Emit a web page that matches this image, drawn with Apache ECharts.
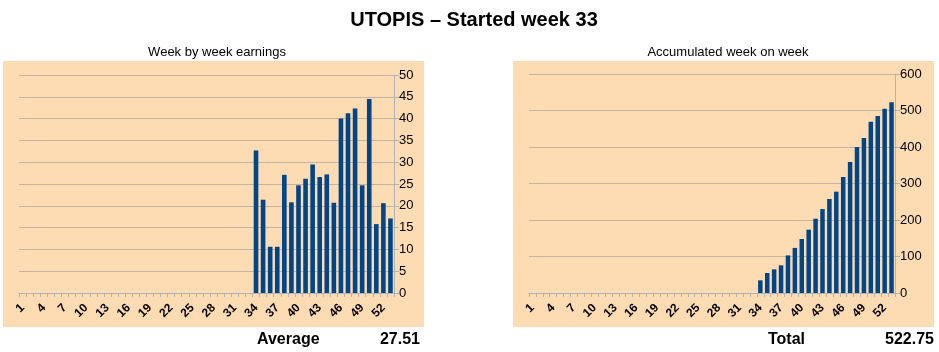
<!DOCTYPE html>
<html>
<head>
<meta charset="utf-8">
<script src="https://cdn.jsdelivr.net/npm/echarts@6/dist/echarts.min.js"></script>
<style>
  html, body { margin: 0; padding: 0; background: #fff; }
  #main { width: 939px; height: 352px; }
</style>
</head>
<body>
<div id="main"></div>
<script>
// weeks 1..53, earnings start at week 34
var weeks = [];
for (var w = 1; w <= 53; w++) weeks.push(String(w));
var firstWeek = 34;
var weeklyEarnings = [32.7, 21.4, 10.6, 10.6, 27.1, 20.8, 24.7, 26.2, 29.5, 26.6,
                      27.2, 20.7, 40.0, 41.2, 42.3, 24.7, 44.5, 15.8, 20.6, 17.1];
var accumulated = [34.7, 54.8, 64.8, 75.8, 103, 123.5, 148, 173.5, 203.5, 230,
                   257.5, 277.6, 317.8, 359, 400, 424.7, 469.4, 485, 505, 522.75];
var averageText = '27.51';
var totalText = '522.75';

function pad(vals) {
    var out = [];
    for (var i = 1; i < firstWeek; i++) out.push(null);
    return out.concat(vals);
}

var chart = echarts.init(document.getElementById('main'));
var font = 'Liberation Sans, Arial, sans-serif';
var gridCol = '#b3b3b3';

function xAxis(gi) {
    return {
        type: 'category', gridIndex: gi, data: weeks,
        boundaryGap: true,
        axisLine: { lineStyle: { color: gridCol } },
        axisTick: { show: true, interval: 0, length: 4, lineStyle: { color: gridCol } },
        axisLabel: { interval: 2, rotate: 45, fontSize: 12, fontWeight: 'bold', color: '#000',
                     fontFamily: font, margin: 13 }
    };
}
function yAxis(gi, max, step) {
    return {
        type: 'value', gridIndex: gi, position: 'right', min: 0, max: max, interval: step,
        axisLine: { show: true, lineStyle: { color: gridCol } },
        axisTick: { show: true, length: 5, lineStyle: { color: gridCol } },
        axisLabel: { fontSize: 13, color: '#000', fontFamily: font, margin: 5 },
        splitLine: { lineStyle: { color: '#c4b4a4' } }
    };
}

var option = {
    animation: false,
    title: [
        { text: 'UTOPIS – Started week 33', left: 469, top: 5, textAlign: 'center',
          textStyle: { fontFamily: font, fontSize: 20, fontWeight: 'bold', color: '#000' } },
        { text: 'Week by week earnings', left: 212, top: 41, textAlign: 'center',
          textStyle: { fontFamily: font, fontSize: 13, fontWeight: 'normal', color: '#000' } },
        { text: 'Accumulated week on week', left: 723, top: 41, textAlign: 'center',
          textStyle: { fontFamily: font, fontSize: 13, fontWeight: 'normal', color: '#000' } }
    ],
    graphic: [
        { type: 'rect', z: -10, shape: { x: 3, y: 61, width: 421, height: 266 }, style: { fill: '#fddbb3' } },
        { type: 'rect', z: -10, shape: { x: 513, y: 61, width: 421, height: 266 }, style: { fill: '#fddbb3' } },
        { type: 'text', x: 257, y: 332, style: { text: 'Average', font: 'bold 16px ' + font, fill: '#000' } },
        { type: 'text', x: 420, y: 332, style: { text: averageText, font: 'bold 16px ' + font, fill: '#000', align: 'right' } },
        { type: 'text', x: 768, y: 332, style: { text: 'Total', font: 'bold 16px ' + font, fill: '#000' } },
        { type: 'text', x: 934, y: 332, style: { text: totalText, font: 'bold 16px ' + font, fill: '#000', align: 'right' } }
    ],
    grid: [
        { left: 19, right: 545, top: 75, bottom: 59 },
        { left: 529, right: 44, top: 74, bottom: 59 }
    ],
    xAxis: [xAxis(0), xAxis(1)],
    yAxis: [yAxis(0, 50, 5), yAxis(1, 600, 100)],
    series: [
        { type: 'bar', xAxisIndex: 0, yAxisIndex: 0, data: pad(weeklyEarnings),
          barWidth: '65%', itemStyle: { color: '#004586' } },
        { type: 'bar', xAxisIndex: 1, yAxisIndex: 1, data: pad(accumulated),
          barWidth: '65%', itemStyle: { color: '#004586' } }
    ]
};
chart.setOption(option);
</script>
</body>
</html>
